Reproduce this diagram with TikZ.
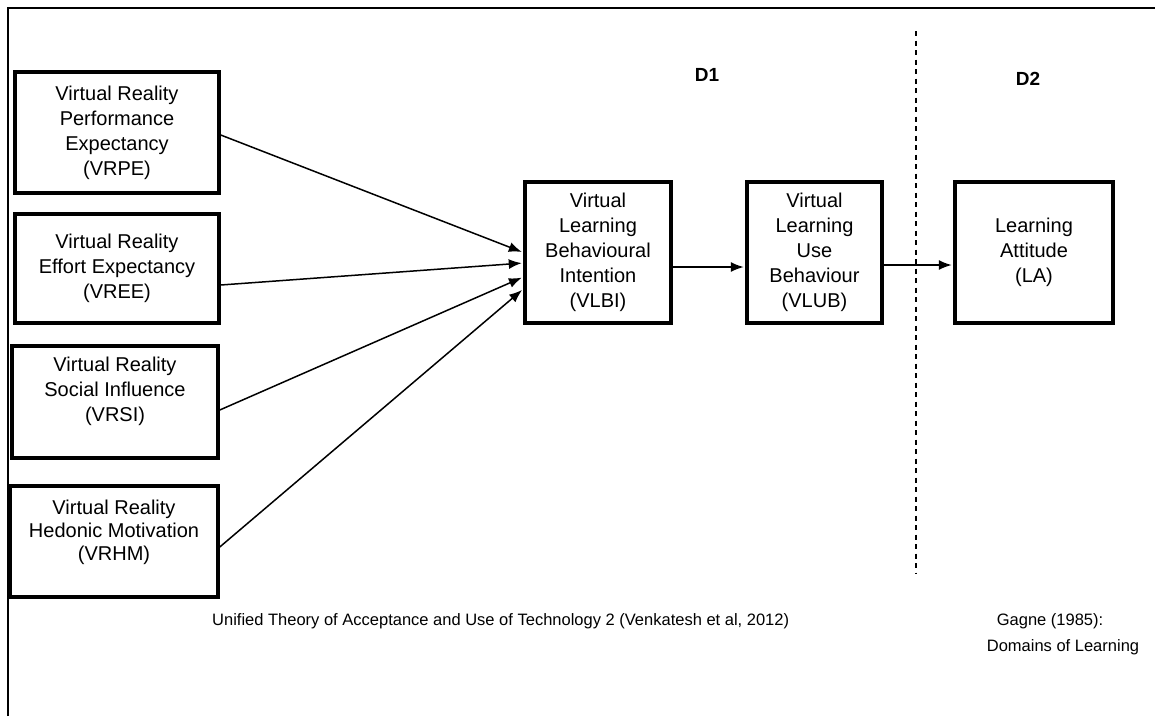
\documentclass[tikz,border=0pt]{standalone}
\usepackage{fontspec}
\setmainfont{Liberation Sans}
\usetikzlibrary{arrows.meta}
\begin{document}
\begin{tikzpicture}[x=1pt,y=-1pt,
  every node/.style={font=\fontsize{20}{25}\selectfont},
  box/.style={draw,line width=3.5pt,inner sep=0pt,align=center},
  conn/.style={line width=1.5pt,-{Latex[length=13pt,width=10pt]},shorten >=1.5pt},
  frame/.style={line width=2pt},
  caption/.style={inner sep=0pt,font=\fontsize{16.5}{26}\selectfont},
  divider/.style={line width=1.4pt,dash pattern=on 5pt off 4.5pt}]
\useasboundingbox (0,0) rectangle (1155,716);
\draw[frame] (8,716) -- (8,8) -- (1155,8);

\node[box,minimum width=204pt,minimum height=121pt] (vrpe) at (117,132.5)
  {Virtual Reality\\Performance\\Expectancy\\(VRPE)};
\node[box,minimum width=204pt,minimum height=109pt] (vree) at (117,268.5)
  {Virtual Reality\\Effort Expectancy\\(VREE)};
\node[box,minimum width=206pt,minimum height=112pt] (vrsi) at (115,402)
  {Virtual Reality\\Social Influence\\(VRSI)\\~};
\node[box,minimum width=208pt,minimum height=111pt,font=\fontsize{20}{23}\selectfont] (vrhm) at (114,541.5)
  {Virtual Reality\\Hedonic Motivation\\(VRHM)\\~};

\node[box,minimum width=146pt,minimum height=141pt] (vlbi) at (598,252.5)
  {Virtual\\Learning\\Behavioural\\Intention\\(VLBI)};
\node[box,minimum width=135pt,minimum height=141pt] (vlub) at (814.5,252.5)
  {Virtual\\Learning\\Use\\Behaviour\\(VLUB)};
\node[box,minimum width=158pt,minimum height=141pt] (la) at (1034,252.5)
  {Learning\\Attitude\\(LA)};

\node[font=\fontsize{19}{25}\selectfont\bfseries] (d1) at (707,75) {D1};
\node[font=\fontsize{19}{25}\selectfont\bfseries] (d2) at (1028,79) {D2};

\coordinate (dtop) at (916,31);
\coordinate (dbot) at (916,573);
\draw[divider] (dtop) -- (dbot);

\draw[conn] ([yshift=-2.5pt]vrpe.east) -- ([yshift=0pt]vlbi.west);
\draw[conn] ([yshift=-16.5pt]vree.east) -- ([yshift=-10.5pt]vlbi.west);
\draw[conn] ([yshift=-8pt]vrsi.east) -- ([yshift=-24.5pt]vlbi.west);
\draw[conn] ([yshift=-5.5pt]vrhm.east) -- ([yshift=-36.5pt]vlbi.west);
\draw[conn] ([yshift=-14.5pt]vlbi.east) -- ([yshift=-14.5pt]vlub.west);
\draw[conn] ([yshift=-12.5pt]vlub.east) -- ([yshift=-12.5pt]la.west);

\node[caption,anchor=west] (utaut) at (212,621)
  {Unified Theory of Acceptance and Use of Technology 2 (Venkatesh et al, 2012)};
\node[caption] (gagne) at (1050,621) {Gagne (1985):};
\node[caption] (domains) at (1063,647) {Domains of Learning};
\end{tikzpicture}
\end{document}
